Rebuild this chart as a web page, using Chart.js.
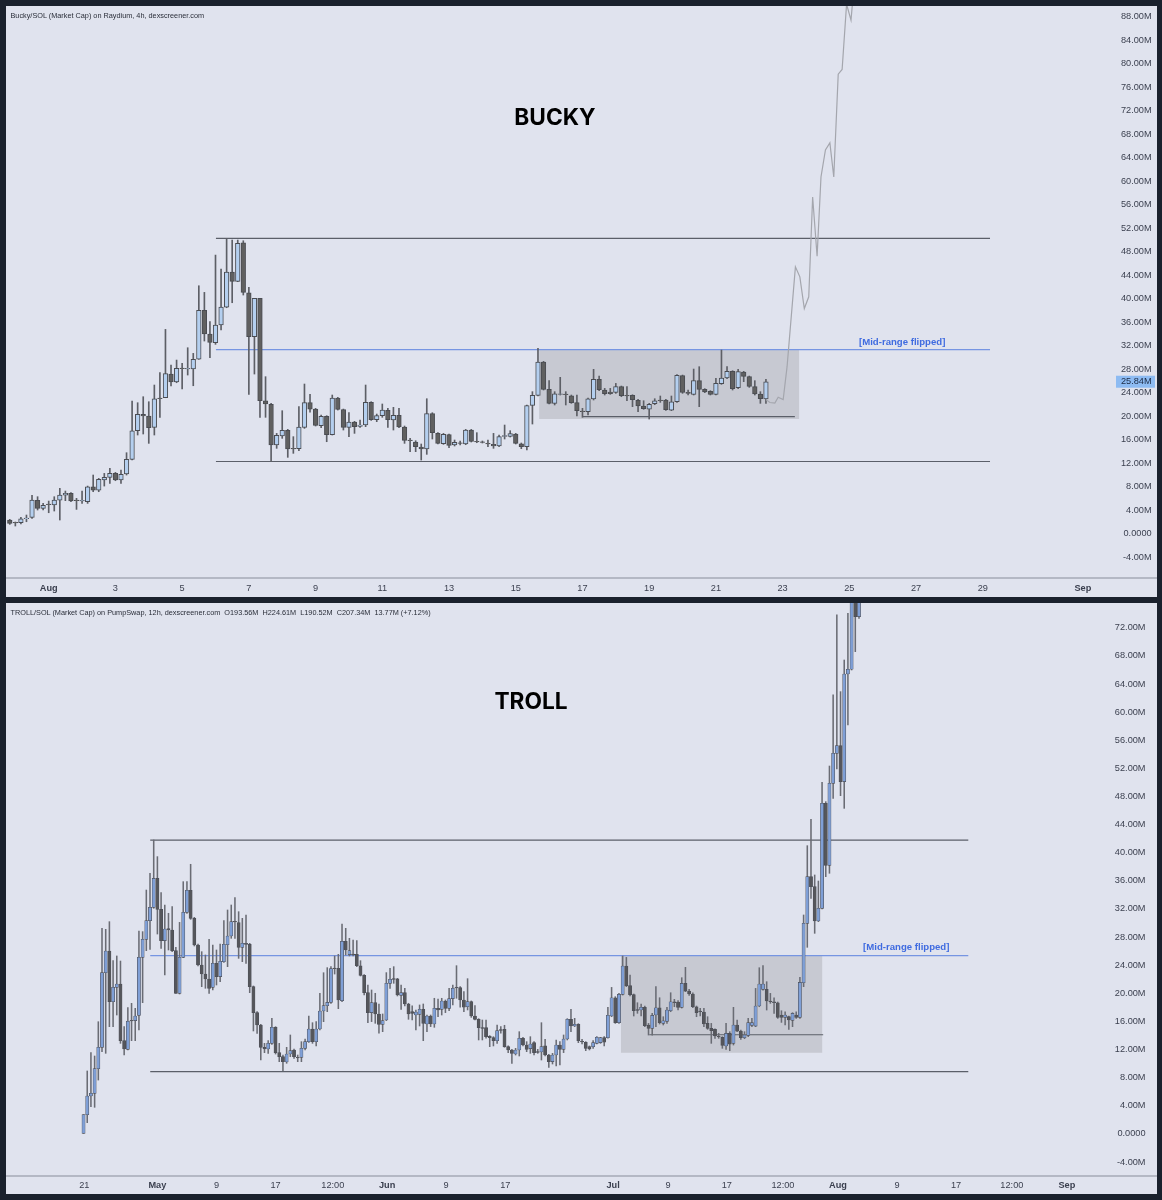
<!DOCTYPE html>
<html>
<head>
<meta charset="utf-8">
<script src="https://cdn.jsdelivr.net/npm/chart.js@4/dist/chart.umd.min.js"></script>
<style>
  html, body { margin: 0; padding: 0; background: #1a212d; }
  body { position: relative; width: 1162px; height: 1200px; overflow: hidden; font-family: "Liberation Sans", sans-serif; }
  .pane { position: absolute; left: 6px; width: 1151px; height: 591px; background: #e0e3ee; }
  .pane canvas { position: absolute; left: 0; top: 0; }
  .head { position: absolute; left: 4.5px; font-size: 7.3px; color: #2a2e39; white-space: pre; }
  .name { position: absolute; font-family: Inter, sans-serif; font-size: 22.7px; font-weight: 700; color: #000; transform: translateX(-50%); }
</style>
</head>
<body>
<div class="pane" style="top:6px">
  <canvas id="buckyChart" width="1151" height="591"></canvas>
  <div class="head" style="top:5px">Bucky/SOL (Market Cap) on Raydium, 4h, dexscreener.com</div>
  <div class="name" style="left:549px;top:97px">BUCKY</div>
</div>
<div class="pane" style="top:603px">
  <canvas id="trollChart" width="1151" height="591"></canvas>
  <div class="head" style="top:5px">TROLL/SOL (Market Cap) on PumpSwap, 12h, dexscreener.com  O193.56M  H224.61M  L190.52M  C207.34M  13.77M (+7.12%)</div>
  <div class="name" style="left:525px;top:84px">TROLL</div>
</div>
<script>
// BUCKY, 4h candles, values in millions
const buckyOpen = [2.30,1.90,1.84,2.52,2.75,5.64,4.28,5.02,4.85,5.70,6.55,6.84,5.70,5.53,5.42,7.97,7.40,9.11,9.56,10.24,9.11,10.13,12.62,17.50,20.28,20.00,18.07,23.06,23.12,27.15,25.79,28.17,28.00,28.00,29.70,37.99,33.96,32.48,35.49,38.55,44.51,42.92,49.50,40.99,33.50,40.03,22.61,21.99,15.07,16.60,17.56,14.50,14.44,18.07,22.27,21.19,18.36,19.95,16.83,23.07,21.08,18.07,18.98,18.24,18.47,22.33,19.38,20.06,20.97,19.32,20.12,18.13,15.92,15.58,14.73,14.39,20.40,17.05,15.29,16.83,15.07,15.46,15.24,17.62,15.69,15.63,15.35,15.18,14.90,16.54,16.54,16.94,15.29,14.78,21.82,23.52,29.19,24.54,22.16,23.69,23.75,23.46,22.27,20.85,20.74,22.90,26.24,24.43,24.09,24.03,25.00,23.52,23.52,22.67,21.71,21.19,22.10,22.73,22.73,21.02,22.44,26.87,24.03,23.69,26.02,24.54,24.20,23.69,25.51,26.47,27.61,24.83,27.49,26.70,25.00,23.75,22.90];
const buckyClose = [1.73,1.79,2.52,2.64,5.70,4.28,4.79,4.91,5.70,6.55,6.84,5.53,5.59,5.64,7.97,7.40,9.22,9.56,10.24,9.11,10.07,12.62,17.50,20.28,20.00,18.01,22.95,22.95,27.21,25.79,28.11,28.06,28.11,29.65,37.99,33.96,32.54,35.49,38.55,44.51,42.92,49.39,41.05,33.50,40.03,22.61,22.05,15.07,16.71,17.56,14.39,14.39,18.13,22.27,21.19,18.41,19.95,16.83,23.07,21.14,18.07,18.98,18.19,18.47,22.33,19.38,20.06,21.02,19.38,20.12,18.13,15.86,15.80,14.78,14.39,20.40,17.17,15.35,16.88,15.01,15.52,15.35,17.62,15.69,15.58,15.52,15.24,14.90,16.49,16.66,17.00,15.35,14.78,21.76,23.52,29.19,24.54,22.16,23.80,23.80,23.63,22.27,20.91,20.74,22.95,26.24,24.49,23.80,23.80,25.00,23.46,23.41,22.78,21.71,21.25,21.99,22.61,22.61,21.08,22.44,26.93,24.03,23.86,26.02,24.54,24.09,23.69,25.56,26.47,27.61,24.66,27.55,26.76,25.05,23.75,22.95,25.84];
const buckyHigh = [2.41,1.96,2.75,3.15,6.50,6.27,5.13,5.53,6.27,7.69,7.23,6.95,5.99,7.23,8.08,9.96,9.39,10.24,11.09,10.41,10.81,13.76,22.55,22.27,23.29,22.44,25.28,27.38,34.75,28.68,29.53,28.96,31.63,30.67,42.18,41.05,36.06,47.40,45.02,50.24,49.96,49.96,49.84,41.90,40.03,40.03,26.70,22.16,17.05,20.91,17.73,16.49,21.59,25.45,23.69,21.31,20.17,20.06,23.58,23.18,21.19,20.57,19.10,19.32,25.28,22.44,20.34,22.05,21.31,21.48,21.31,18.30,16.20,15.80,15.24,22.95,20.57,17.17,17.05,16.94,15.92,15.75,17.73,17.73,17.17,15.75,15.92,17.05,16.77,18.47,17.51,17.05,15.41,21.88,24.15,31.52,29.31,26.02,24.15,26.59,24.15,23.58,23.58,21.31,23.07,27.95,26.81,24.71,24.71,25.56,25.11,25.00,23.63,22.84,22.61,22.16,22.95,23.41,22.84,23.41,27.04,26.98,24.43,28.00,28.40,24.66,24.32,26.41,31.24,28.40,27.72,27.95,27.61,26.81,26.02,24.15,26.24];
const buckyLow = [1.56,1.28,1.62,2.01,2.58,4.00,4.00,3.54,3.83,2.30,5.59,5.42,4.11,5.13,5.13,7.12,7.12,8.08,8.54,8.99,8.54,9.96,12.51,16.77,16.94,15.35,16.77,19.77,23.12,25.11,25.67,24.60,26.98,25.16,29.65,32.77,29.93,32.20,34.64,38.44,39.29,42.87,40.60,23.69,27.15,19.77,19.78,12.23,14.50,16.20,12.97,13.65,14.10,17.90,20.68,18.30,18.02,15.63,16.77,21.02,17.62,16.49,17.05,18.07,18.19,19.26,19.04,19.78,18.07,17.62,18.02,15.35,13.93,13.93,12.51,13.48,16.09,15.24,15.18,14.61,14.90,15.07,15.12,15.58,15.46,15.41,14.78,14.50,14.78,16.09,16.43,15.24,14.44,14.22,18.64,23.41,24.43,22.05,21.88,23.58,21.88,22.16,20.00,19.78,20.17,22.73,24.32,23.58,23.69,23.86,23.29,22.61,21.59,20.74,21.14,19.49,21.93,22.33,20.97,20.91,22.33,23.86,23.58,23.58,21.59,23.98,23.58,23.58,25.39,26.36,24.43,24.66,25.85,24.88,23.58,22.16,22.16];

// drawn-in projection after the last BUCKY candle
const buckyGhostX = [136,136.7,137.6,138.2,139.1,139.8,141.3,142.1,142.9,143.7,144.4,145.2,145.9,146.7,147.5,148.2,149,149.7,150.5,151.3,152];
const buckyGhostY = [22.8,22.3,22.2,23.2,22.8,28.4,45.4,43.7,38.3,40.3,57.3,47.2,60.7,65.3,66.5,60.7,78.2,79,90.1,87.4,95];

const buckyTickX = [7,19,31,43,55,67,79,91,103,115,127,139,151,163,175,193];
const buckyTickLabels = ['Aug','3','5','7','9','11','13','15','17','19','21','23','25','27','29','Sep'];
const buckyTickY = [-4,0,4,8,12,16,20,24,28,32,36,40,44,48,52,56,60,64,68,72,76,80,84,88];
const buckyLevelX = [37.08,176.3];
const buckyLevelTop = 50.24;
const buckyLevelMid = 31.3;
const buckyLevelLow = 12.26;
const buckyBoxX = [95.2,142];
const buckyBoxY = [31.3,19.5];
const buckySupportX = [103.1,141.2];
const buckySupportY = 19.9;
const buckyNote = [160.5,32.6];
const buckyLast = 25.84;

// TROLL, 12h candles, values in millions
const trollOpen = [0.08,2.73,5.39,5.77,9.28,12.31,22.93,26.02,18.81,20.85,21.32,13.26,12.03,16.15,16.11,16.86,25.12,27.68,30.33,32.23,36.35,31.94,27.49,29.19,29.00,26.06,19.99,25.12,31.52,34.65,30.66,26.87,24.03,22.74,22.03,20.85,24.26,22.37,24.50,26.92,28.15,30.24,30.05,26.54,27.11,26.96,20.94,17.24,15.49,12.31,12.07,12.88,15.16,11.55,10.98,10.23,11.36,11.93,10.89,10.89,12.17,13.12,14.92,13.12,14.92,17.48,18.24,18.71,23.60,23.55,18.95,27.39,25.50,25.59,25.54,23.89,22.56,20.09,17.25,18.67,17.06,15.59,16.20,21.42,22.08,22.04,19.71,20.09,18.48,17.39,16.91,17.01,17.72,15.63,16.77,15.63,17.86,17.72,18.91,17.86,19.24,20.85,20.80,19.05,18.10,18.81,16.77,16.30,15.11,15.11,13.88,13.69,13.26,14.83,14.88,12.41,11.94,11.37,11.94,13.60,12.65,12.13,12.98,11.70,11.65,12.51,11.22,10.28,11.22,12.65,12.03,13.50,16.30,15.35,15.59,13.17,13.03,12.41,12.41,12.88,12.98,13.69,13.69,16.77,19.37,15.82,19.85,23.88,21.08,19.80,17.67,17.62,18.00,15.49,15.01,16.91,17.95,15.72,16.01,17.52,18.80,18.76,18.00,21.41,20.32,19.90,18.09,17.48,17.33,15.72,15.01,14.87,13.87,13.73,12.50,14.30,12.88,15.49,14.63,13.68,14.02,15.44,15.34,18.19,20.56,20.56,18.90,18.80,18.66,16.91,16.58,16.67,16.15,16.91,16.58,21.51,29.95,36.59,35.17,30.28,32.09,47.02,38.20,49.87,54.14,55.23,50.11,65.42,66.09,76.42,73.58];
const trollClose = [2.73,5.39,5.77,9.28,12.31,22.93,26.02,18.81,20.85,21.32,13.26,12.07,16.01,16.06,16.77,25.12,27.68,30.33,32.23,36.35,31.94,27.49,29.15,29.00,26.06,19.99,25.12,31.52,34.65,30.66,26.87,24.03,22.74,22.03,20.71,24.26,22.37,24.55,26.97,28.15,30.19,30.14,26.54,27.11,26.96,20.94,17.24,15.49,12.31,12.07,12.88,15.16,11.55,10.98,10.27,11.36,11.84,10.98,10.79,12.17,13.12,14.92,13.12,14.92,17.48,18.24,18.71,23.50,23.50,19.05,27.39,26.16,26.06,25.50,23.93,22.56,20.09,17.25,18.67,17.06,15.59,16.11,21.42,21.99,21.99,19.76,20.09,18.48,17.06,17.15,17.34,17.72,15.73,16.77,15.63,17.86,17.63,18.91,17.86,19.24,20.71,20.76,19.05,18.01,18.81,16.77,16.30,15.11,15.02,13.83,13.69,13.26,14.69,14.73,12.41,11.94,11.46,11.94,13.60,12.65,12.03,12.79,11.56,11.60,12.41,11.22,10.28,11.22,12.65,12.03,13.50,16.30,15.35,15.59,13.26,13.07,12.17,12.08,12.98,13.74,13.69,13.03,16.87,19.37,15.82,19.85,23.88,21.08,19.80,17.52,17.57,18.00,15.39,15.01,16.86,17.95,15.82,16.10,17.62,18.80,18.66,18.00,21.41,20.32,19.90,18.09,17.24,17.38,15.63,15.01,14.68,13.92,13.78,12.59,14.30,12.78,15.49,14.63,13.68,14.06,15.82,15.82,18.19,21.32,21.32,18.90,18.80,18.66,16.58,16.58,16.91,16.20,17.14,16.58,21.55,29.95,36.59,35.17,30.28,32.09,47.02,38.20,49.87,54.14,55.23,50.11,65.42,66.09,77.37,73.58,79.00];
const trollHigh = [2.73,8.95,11.55,11.08,15.96,29.24,29.10,30.19,24.64,25.31,24.59,15.25,17.96,18.57,17.86,28.86,28.77,34.69,37.07,41.81,39.44,34.31,32.56,31.38,32.32,26.54,30.09,35.88,35.88,38.35,30.81,27.01,25.92,25.45,27.68,26.87,26.16,27.01,30.33,31.85,32.56,33.60,31.61,30.66,31.14,27.11,21.04,17.39,15.58,12.88,13.26,16.44,15.25,12.88,11.22,12.31,14.07,12.07,11.22,13.12,13.50,16.77,15.82,15.96,19.99,22.93,23.65,23.79,25.31,25.54,29.86,29.24,27.82,27.58,27.49,24.64,22.65,21.18,20.47,20.00,18.48,17.06,22.94,23.55,23.79,22.13,21.18,20.71,18.58,18.20,17.63,18.34,18.48,16.91,16.91,19.29,19.19,19.29,19.05,20.71,21.18,23.93,20.95,20.23,22.08,18.91,18.24,16.39,16.20,16.20,13.98,13.83,15.49,15.26,15.45,12.51,12.03,12.17,14.54,13.74,13.12,13.83,13.12,12.03,15.82,13.45,11.32,11.46,13.36,13.12,14.07,16.39,17.72,16.44,15.68,13.45,13.12,12.51,13.26,13.83,13.74,13.83,18.01,20.84,19.52,19.99,25.30,25.11,22.60,19.90,18.66,18.47,18.19,15.72,17.14,20.94,19.37,16.67,18.00,20.08,19.14,18.95,22.22,23.69,20.56,20.08,18.19,17.86,17.86,16.67,15.72,14.96,14.30,13.83,15.72,14.54,18.00,16.20,14.77,14.54,16.43,16.43,20.70,23.64,23.93,21.65,19.99,19.37,18.76,17.52,17.38,16.77,17.24,17.38,22.27,31.14,41.00,44.75,36.83,35.97,50.01,47.26,52.33,62.44,73.82,62.91,67.41,74.05,78.80,77.50,80.00];
const trollLow = [0.08,1.60,3.87,3.78,7.66,11.70,11.46,15.25,15.25,16.91,12.88,11.22,11.93,13.26,13.26,14.78,18.67,26.06,26.25,32.09,28.43,26.40,22.60,26.16,25.92,19.99,19.90,25.07,31.38,30.52,26.73,23.88,20.94,20.71,19.99,20.47,21.18,21.65,24.40,23.79,27.82,27.82,24.97,24.50,24.26,20.09,14.64,14.30,10.51,11.55,11.46,12.74,11.36,10.27,8.99,10.04,10.98,10.75,10.27,10.27,11.93,13.02,12.88,12.50,14.78,15.96,17.39,18.57,22.74,17.81,18.81,25.45,25.31,25.31,23.79,22.46,19.76,15.82,15.97,15.73,14.31,14.54,16.11,20.71,21.42,19.62,17.72,18.20,16.30,16.20,14.78,15.35,13.26,14.54,15.26,15.16,16.68,16.91,17.25,17.53,18.34,19.29,18.01,17.39,17.63,16.58,16.20,13.36,13.36,13.60,12.41,12.51,12.88,14.31,12.32,11.56,10.04,11.22,11.08,12.51,11.70,11.46,11.22,11.46,10.51,11.08,9.47,9.94,9.66,9.80,11.56,13.36,14.54,15.26,12.98,12.79,11.84,11.94,12.17,12.79,12.88,12.51,13.60,16.67,15.72,15.72,19.75,20.94,19.61,16.77,17.15,16.77,15.25,14.06,14.06,15.25,15.63,15.49,15.72,17.38,18.09,17.62,17.90,20.23,19.71,17.95,16.67,16.77,15.25,14.87,12.88,13.59,13.59,12.17,12.02,11.83,12.64,14.54,13.45,13.54,13.83,15.25,15.25,18.09,20.46,17.62,18.57,17.15,16.43,15.86,15.49,14.87,15.25,16.43,16.43,20.94,26.54,33.51,28.53,30.19,32.00,36.59,37.07,47.73,51.91,48.11,46.31,58.17,65.99,68.60,73.34];

const trollTickX = [0.2,20,36,52,67.5,82.2,98.2,114.2,143.4,158.3,174.2,189.4,204.3,220.3,236.3,251.4,266.3];
const trollTickLabels = ['21','May','9','17','12:00','Jun','9','17','Jul','9','17','12:00','Aug','9','17','12:00','Sep'];
const trollTickY = [-4,0,4,8,12,16,20,24,28,32,36,40,44,48,52,56,60,64,68,72];
const trollLevelX = [18.06,239.6];
const trollLevelTop = 41.8;
const trollLevelMid = 25.35;
const trollLevelLow = 8.85;
const trollBoxX = [145.5,200.1];
const trollBoxY = [25.35,11.55];
const trollSupportX = [153.2,200.3];
const trollSupportY = 14.1;
const trollNote = [222.8,26.48];

const fontFamily = '"Liberation Sans", sans-serif';

function hLine(xs, y, color, width, order) {
    return {
        type: 'line',
        data: [{x: xs[0], y: y}, {x: xs[1], y: y}],
        borderColor: color,
        borderWidth: width,
        pointRadius: 0,
        order: order
    };
}

function candleChart(id, c) {
    const idx = c.open.map((_, i) => i);
    const datasets = [
        {
            type: 'line',
            data: [{x: c.boxX[0], y: c.boxY[0]}, {x: c.boxX[1], y: c.boxY[0]}],
            borderWidth: 0,
            pointRadius: 0,
            backgroundColor: 'rgba(110,110,115,0.22)',
            fill: {value: c.boxY[1]},
            order: 9
        },
        hLine(c.levelX, c.levelTop, '#5b5f69', 1.2, 6),
        hLine(c.levelX, c.levelLow, '#5b5f69', 1.2, 6),
        hLine(c.levelX, c.levelMid, '#7695e2', 1.2, 6),
        hLine(c.supportX, c.supportY, '#5b5f69', 1.2, 6),
        {
            type: 'bar',
            data: idx.map(i => ({x: i, y: [c.low[i], c.high[i]]})),
            backgroundColor: c.wickColor,
            barThickness: c.wickWidth,
            grouped: false,
            order: 3
        },
        {
            type: 'bar',
            data: idx.map(i => ({x: i, y: [c.open[i], c.close[i]]})),
            backgroundColor: idx.map(i => c.close[i] >= c.open[i] ? c.upColor : c.downColor),
            borderColor: c.borderColor,
            borderWidth: c.bodyBorder,
            borderSkipped: false,
            barThickness: c.bodyWidth,
            grouped: false,
            order: 2
        }
    ];
    if (c.ghostX) {
        datasets.push({
            type: 'line',
            data: c.ghostX.map((x, i) => ({x: x, y: c.ghostY[i]})),
            borderColor: '#a4a6ad',
            borderWidth: 1.2,
            pointRadius: 0,
            order: 1
        });
    }

    new Chart(document.getElementById(id), {
        data: {datasets: datasets},
        options: {
            responsive: false,
            animation: false,
            events: [],
            layout: {padding: 0, autoPadding: false},
            plugins: {legend: {display: false}, tooltip: {enabled: false}, title: {display: false}},
            scales: {
                x: {
                    type: 'linear',
                    offset: false,
                    min: c.xMin,
                    max: c.xMax,
                    grid: {display: false, drawTicks: false},
                    border: {display: false},
                    afterFit: s => { s.height = c.xHeight; },
                    afterBuildTicks: s => { s.ticks = c.tickX.map(v => ({value: v})); },
                    ticks: {
                        autoSkip: false,
                        maxRotation: 0,
                        padding: c.xPad,
                        color: '#3a3f4e',
                        callback: (v, i) => c.tickLabels[i],
                        font: ctx => ({
                            family: fontFamily,
                            size: 9.2,
                            weight: /^[A-Z]/.test(c.tickLabels[ctx.index]) ? '700' : '400'
                        })
                    }
                },
                y: {
                    position: 'right',
                    min: c.yMin,
                    max: c.yMax,
                    grid: {display: false, drawTicks: false},
                    border: {display: false},
                    afterFit: s => { s.width = 41; s.paddingTop = 0; s.paddingBottom = 0; },
                    afterBuildTicks: s => { s.ticks = c.tickY.map(v => ({value: v})); },
                    ticks: {
                        autoSkip: false,
                        // mirrored labels are right aligned, padding sets their right edge inside the price column
                        mirror: true,
                        padding: c.yLabelRight,
                        color: '#3a3f4e',
                        font: {family: fontFamily, size: 9.2},
                        callback: v => v === 0 ? '0.0000' : v.toFixed(2) + 'M'
                    }
                }
            }
        },
        plugins: [{
            id: 'paneExtras',
            afterDraw(chart) {
                const g = chart.ctx;
                const xs = chart.scales.x;
                const ys = chart.scales.y;
                const a = chart.chartArea;
                g.save();
                // axis separator runs under the price column too
                g.strokeStyle = '#a6aab6';
                g.lineWidth = 1.5;
                g.beginPath();
                g.moveTo(0, a.bottom);
                g.lineTo(chart.width, a.bottom);
                g.stroke();
                g.font = '700 9.6px ' + fontFamily;
                g.fillStyle = '#3f6be0';
                g.textAlign = 'center';
                g.textBaseline = 'middle';
                g.fillText('[Mid-range flipped]', xs.getPixelForValue(c.note[0]), ys.getPixelForValue(c.note[1]));
                if (c.last !== undefined) {
                    const py = ys.getPixelForValue(c.last);
                    g.fillStyle = '#8dbbf2';
                    g.fillRect(a.right, py - 6, 39, 12);
                    g.font = '9.2px ' + fontFamily;
                    g.fillStyle = '#1b2a44';
                    g.textAlign = 'right';
                    g.fillText(c.last.toFixed(2) + 'M', a.right + c.yLabelRight, py);
                }
                g.restore();
            }
        }]
    });
}

candleChart('buckyChart', {
    open: buckyOpen, close: buckyClose, high: buckyHigh, low: buckyLow,
    ghostX: buckyGhostX, ghostY: buckyGhostY,
    tickX: buckyTickX, tickLabels: buckyTickLabels, tickY: buckyTickY,
    levelX: buckyLevelX, levelTop: buckyLevelTop, levelMid: buckyLevelMid, levelLow: buckyLevelLow,
    boxX: buckyBoxX, boxY: buckyBoxY, supportX: buckySupportX, supportY: buckySupportY,
    note: buckyNote, last: buckyLast,
    xMin: -0.68, xMax: 198.96, yMin: -7.57, yMax: 89.8,
    xHeight: 19, xPad: 5, yLabelRight: 35.6,
    upColor: '#b4cfef', downColor: '#606060', borderColor: '#4a4c52', bodyBorder: 1,
    bodyWidth: 4.6, wickColor: '#5d5f66', wickWidth: 1
});

candleChart('trollChart', {
    open: trollOpen, close: trollClose, high: trollHigh, low: trollLow,
    tickX: trollTickX, tickLabels: trollTickLabels, tickY: trollTickY,
    levelX: trollLevelX, levelTop: trollLevelTop, levelMid: trollLevelMid, levelLow: trollLevelLow,
    boxX: trollBoxX, boxY: trollBoxY, supportX: trollSupportX, supportY: trollSupportY,
    note: trollNote,
    xMin: -21.0, xMax: 279.6, yMin: -5.99, yMax: 75.52,
    xHeight: 18, xPad: 3.5, yLabelRight: 29.5,
    upColor: '#7f9fd6', downColor: '#55565b', borderColor: '#4c4f58', bodyBorder: 0.6,
    bodyWidth: 3.2, wickColor: '#6a6c74', wickWidth: 0.9
});
</script>
</body>
</html>
